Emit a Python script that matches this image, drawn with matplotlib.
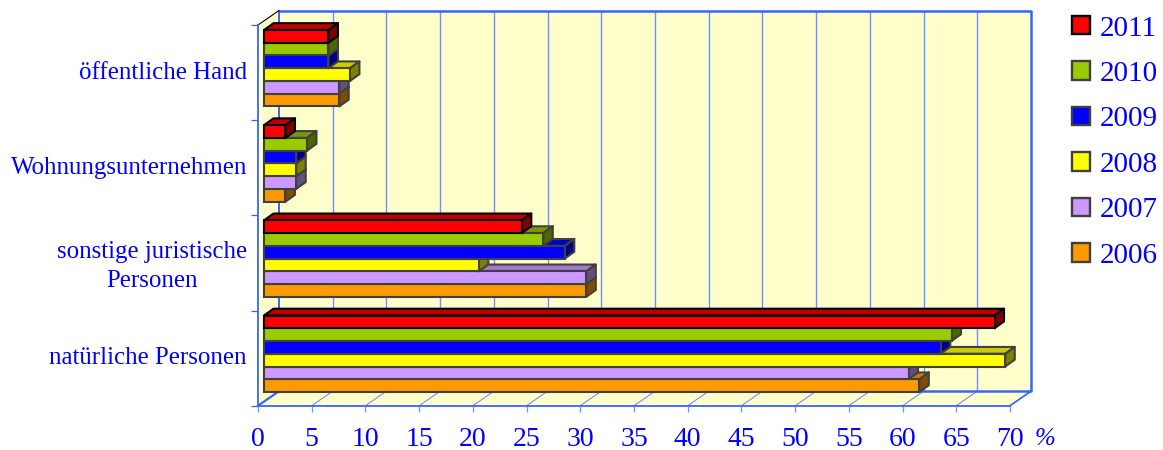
import matplotlib
matplotlib.use("Agg")
import matplotlib.pyplot as plt
from matplotlib.patches import Polygon, Patch

categories = ["natürliche Personen", "sonstige juristische\nPersonen",
              "Wohnungsunternehmen", "öffentliche Hand"]
years = ["2011", "2010", "2009", "2008", "2007", "2006"]
v2011 = [68, 24, 2, 6]
v2010 = [64, 26, 4, 6]
v2009 = [63, 28, 3, 6]
v2008 = [69, 20, 3, 8]
v2007 = [60, 30, 3, 7]
v2006 = [61, 30, 2, 7]
series = [v2011, v2010, v2009, v2008, v2007, v2006]
front = ["#FF0000", "#99CC00", "#0000FF", "#FFFF00", "#CC99FF", "#FF9900"]
top = ["#C00000", "#7A9900", "#0000C0", "#CCCC00", "#A37ACC", "#CC7A00"]
side = ["#800000", "#4D6600", "#000080", "#808000", "#664D80", "#804D00"]
edges = ["#000000", "#404040", "#404040", "#404040", "#404040", "#404040"]
xticks = list(range(0, 75, 5))

W, H = 1163, 450
AX_L, AX_R, AX_T, AX_B = 258, 1010, 25, 405.7
PX = (AX_R - AX_L) / 70
PY = (AX_B - AX_T) / 4
AXIS = "#3366FF"
GRID = "#6F8FFF"
WALL = "#FFFFCC"
TEXT = "#0000FF"

plt.rcParams["font.family"] = ["Liberation Serif", "DejaVu Serif"]
fig = plt.figure(figsize=(W / 100, H / 100), dpi=100)
ax = fig.add_axes([AX_L / W, 1 - AX_B / H, (AX_R - AX_L) / W, (AX_B - AX_T) / H])
ax.set_xlim(0, 70)
ax.set_ylim(0, 4)
ax.patch.set_visible(False)

# 3D wall depth and bar depth, expressed in data units
wx, wy = 21 / PX, 14.5 / PY
bx, by = 9.5 / PX, 6.8 / PY
x0 = 6 / PX
y0 = 13.7 / PY
bh = 12.75 / PY


def poly(pts, **kw):
    p = Polygon(pts, closed=True, clip_on=False, **kw)
    ax.add_patch(p)
    return p


# walls and floor
poly([(0, 0), (wx, wy), (wx, 4 + wy), (0, 4)], fc=WALL, ec="none", zorder=1)
poly([(0, 0), (70, 0), (70 + wx, wy), (wx, wy)], fc=WALL, ec="none", zorder=1)
poly([(wx, wy), (70 + wx, wy), (70 + wx, 4 + wy), (wx, 4 + wy)], fc=WALL, ec="none", zorder=1)
for t in xticks:
    ax.plot([t, t + wx], [0, wy], color=AXIS if t == 0 else GRID, lw=1.6 if t == 0 else 0.8,
            clip_on=False, zorder=2)
    if 0 < t < 70:
        ax.plot([t + wx] * 2, [wy, 4 + wy], color=GRID, lw=1.0, clip_on=False, zorder=2)
ax.plot([wx, wx], [wy, 4 + wy], color=AXIS, lw=1.4, clip_on=False, zorder=2)
ax.plot([wx, 70 + wx, 70 + wx, wx], [4 + wy, 4 + wy, wy, wy], color=AXIS, lw=1.8, clip_on=False, zorder=2)
ax.plot([70, 70 + wx], [0, wy], color=AXIS, lw=1.2, clip_on=False, zorder=2)
ax.plot([0, wx], [4, 4 + wy], color="black", lw=0.8, clip_on=False, zorder=2)

# bars: bottom series first so upper bars overlap the tops below
z = 5
n = len(series)
for i in range(n - 1, -1, -1):
    vals = series[i]
    slot = n - 1 - i
    for c, v in enumerate(vals):
        yb = c + y0 + slot * bh
        yt = yb + bh
        xr = x0 + v
        poly([(x0, yt), (xr, yt), (xr + bx, yt + by), (x0 + bx, yt + by)],
             fc=top[i], ec=edges[i], lw=1.5, joinstyle="round", zorder=z)
        poly([(xr, yb), (xr + bx, yb + by), (xr + bx, yt + by), (xr, yt)],
             fc=side[i], ec=edges[i], lw=1.5, joinstyle="round", zorder=z)
        ax.barh(yb, v, height=bh, left=x0, align="edge", color=front[i], edgecolor=edges[i],
                linewidth=1.5, zorder=z + 0.5, clip_on=False)
        z += 1

# axes
for s in ("top", "right"):
    ax.spines[s].set_visible(False)
for s in ("left", "bottom"):
    ax.spines[s].set_color(AXIS)
    ax.spines[s].set_linewidth(1.3)
    ax.spines[s].set_zorder(3)
ax.set_xticks(xticks)
ax.set_xticklabels([str(t) for t in xticks], fontsize=20, color=TEXT)
ax.tick_params(axis="x", length=4.5, width=0.9, color=GRID, pad=10.5)
ax.set_yticks(range(5))
ax.set_yticklabels([])
ax.tick_params(axis="y", which="major", length=5, width=0.9, color=AXIS)
ax.set_yticks([c + 0.527 for c in range(4)], minor=True)
ax.set_yticklabels(categories, minor=True, fontsize=17.9, color=TEXT, ha="right",
                   multialignment="center", linespacing=1.42)
ax.tick_params(axis="y", which="minor", length=0, pad=8)
fig.text(1045 / W, 1 - 439 / H, "%", fontsize=18, style="italic", color=TEXT, ha="center", va="center")

handles = [Patch(fc=front[i], ec=edges[i], lw=1.7) for i in range(n)]
leg = fig.legend(handles, years, loc="upper left", bbox_to_anchor=(1072 / W, 1 - 15.5 / H),
                 frameon=False, fontsize=21, labelcolor=TEXT, borderpad=0, borderaxespad=0,
                 handlelength=0.6, handleheight=0.6, handletextpad=0.34, labelspacing=0.668)

fig.savefig("out.png", dpi=100)
